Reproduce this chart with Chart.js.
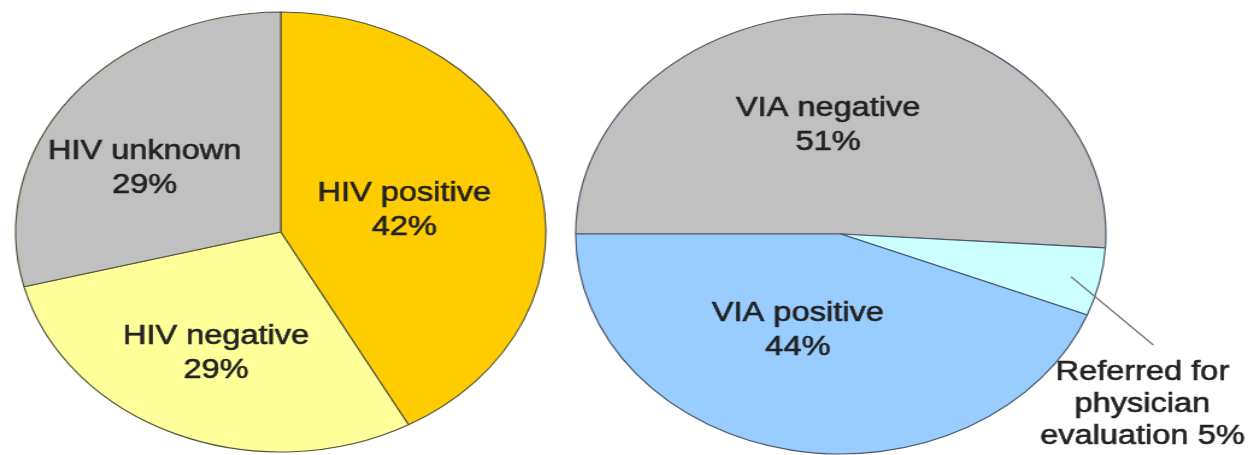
<!DOCTYPE html>
<html>
<head>
<meta charset="utf-8">
<script src="https://cdn.jsdelivr.net/npm/chart.js@4"></script>
<style>
  html, body { margin: 0; padding: 0; background: #fff; }
  body { width: 1259px; height: 455px; position: relative; overflow: hidden; }
  /* the original pies are stretched sideways, text included */
  .wrap { position: absolute; top: 0; height: 455px; transform: scaleX(1.205); transform-origin: 0 0; }
  #wrapHiv { left: 0; width: 466px; }
  #wrapVia { left: 560px; width: 580px; }
</style>
</head>
<body>
<div class="wrap" id="wrapHiv"><canvas id="hivChart"></canvas></div>
<div class="wrap" id="wrapVia"><canvas id="viaChart"></canvas></div>
<script>
const hivLabels = ['HIV positive', 'HIV negative', 'HIV unknown'];
const hivValues = [42, 29, 29];
const hivColors = ['#FFCC00', '#FFFF99', '#C0C0C0'];

const viaLabels = ['VIA negative', 'Referred for physician evaluation', 'VIA positive'];
const viaValues = [51, 5, 44];
const viaColors = ['#C0C0C0', '#CCFFFF', '#99CCFF'];

// how each label is broken into lines on the picture
const hivLines = [['HIV positive'], ['HIV negative'], ['HIV unknown']];
const viaLines = [['VIA negative'], ['Referred for', 'physician', 'evaluation'], ['VIA positive']];

// label nudges from the slice centre point (unstretched px)
const hivOffsets = [[-4, 6], [-10, 21], [-26, 4]];
const viaOffsets = [[-14, 1], [143, 147], [-15, -12]];

const FONT = '27px "Liberation Sans", Arial, sans-serif';

const sliceLabels = {
  id: 'sliceLabels',
  afterDatasetsDraw(chart, args, opts) {
    const ctx = chart.ctx;
    const meta = chart.getDatasetMeta(0);
    const values = chart.data.datasets[0].data;
    ctx.save();
    ctx.font = FONT;
    ctx.fillStyle = '#222';
    ctx.textAlign = 'center';
    ctx.textBaseline = 'middle';
    meta.data.forEach((arc, i) => {
      const c = arc.getCenterPoint();
      const x = c.x + opts.offsets[i][0];
      const y = c.y + opts.offsets[i][1];
      let lines = opts.lines[i].slice();
      const outside = opts.outside === i;
      if (outside) {
        lines[lines.length - 1] += ' ' + values[i] + '%';
      } else {
        lines.push(values[i] + '%');
      }
      const lh = outside ? 32 : 34;
      const top = y - (lines.length - 1) * lh / 2;
      ctx.strokeStyle = '#222';
      ctx.lineWidth = 0.6;
      lines.forEach((t, k) => {
        ctx.fillText(t, x, top + k * lh);
        ctx.strokeText(t, x, top + k * lh);
      });

      if (outside) {
        // leader line from inside the slice to above the text
        const mid = (arc.startAngle + arc.endAngle) / 2;
        const r = arc.outerRadius * 0.89;
        ctx.strokeStyle = '#777';
        ctx.lineWidth = 1.3;
        ctx.beginPath();
        ctx.moveTo(arc.x + Math.cos(mid) * r, arc.y + Math.sin(mid) * r);
        ctx.lineTo(x + 9, y - 60);
        ctx.stroke();
      }
    });
    ctx.restore();
  }
};

function makePie(id, labels, values, colors, border, rotation, padding, lines, offsets, outside) {
  return new Chart(document.getElementById(id), {
    type: 'pie',
    data: {
      labels,
      datasets: [{ data: values, backgroundColor: colors, borderColor: border, borderWidth: 1.2 }]
    },
    options: {
      responsive: true,
      maintainAspectRatio: false,
      animation: false,
      rotation,
      radius: 220,
      layout: { padding },
      events: [],
      plugins: {
        legend: { display: false },
        tooltip: { enabled: false },
        sliceLabels: { lines, offsets, outside }
      }
    },
    plugins: [sliceLabels]
  });
}

makePie('hivChart', hivLabels, hivValues, hivColors, '#55553c', 0,
  { top: 9, left: 0, right: 0, bottom: 0 }, hivLines, hivOffsets, -1);
makePie('viaChart', viaLabels, viaValues, viaColors, '#4a5866', 270,
  { top: 13, left: 0, right: 114, bottom: 0 }, viaLines, viaOffsets, 1);
</script>
</body>
</html>
